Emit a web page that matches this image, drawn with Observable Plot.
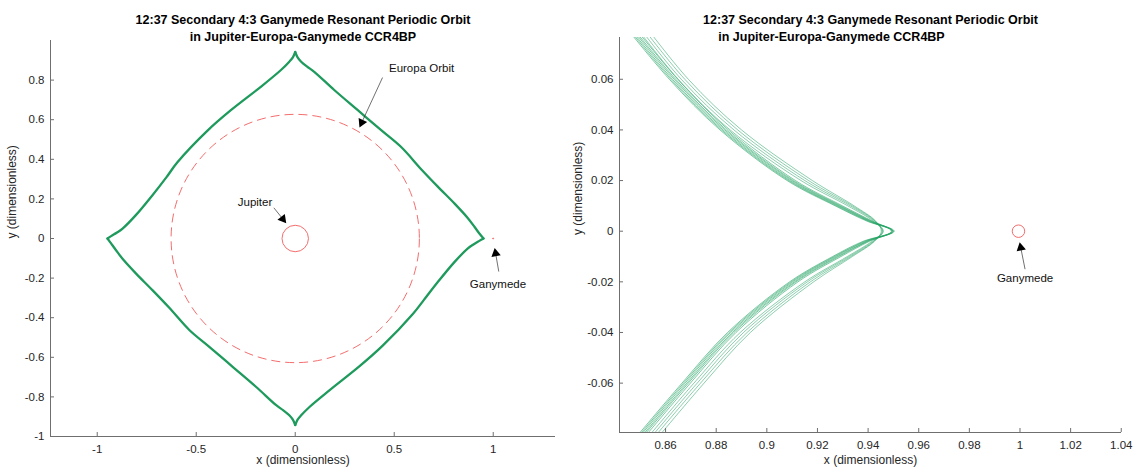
<!DOCTYPE html>
<html><head><meta charset="utf-8">
<script src="https://cdn.jsdelivr.net/npm/d3@7"></script>
<script src="https://cdn.jsdelivr.net/npm/@observablehq/plot@0.6"></script>
<style>
body{margin:0;background:#fff;}
#wrap{position:relative;width:1135px;height:473px;overflow:hidden;}
#left,#right{position:absolute;top:0;}
#left{left:0;} #right{left:560px;}
</style></head><body><div id="wrap"><div id="left"></div><div id="right"></div></div>
<script>
// ---------- texts ----------
const titleLine1 = "12:37 Secondary 4:3 Ganymede Resonant Periodic Orbit";
const titleLine2 = "in Jupiter-Europa-Ganymede CCR4BP";
const xLabel = "x (dimensionless)";
const yLabel = "y (dimensionless)";

// ---------- ticks ----------
const xTicksLeft = [-1, -0.5, 0, 0.5, 1];
const yTicksLeft = [-1, -0.8, -0.6, -0.4, -0.2, 0, 0.2, 0.4, 0.6, 0.8];
const xTicksRight = [0.86, 0.88, 0.9, 0.92, 0.94, 0.96, 0.98, 1, 1.02, 1.04];
const yTicksRight = [-0.06, -0.04, -0.02, 0, 0.02, 0.04, 0.06];

// ---------- bodies (x, y, radius) ----------
const jupiter = [{x: 0, y: 0, r: 0.0668}];
const europaOrbit = [{x: 0, y: 0, r: 0.627}];
const ganymede = [{x: 0.9994, y: 0, r: 0.00246}];

// ---------- orbit (full view), four arms between cusps ----------
const armTopRight = [[0,0.942],[0.012,0.915],[0.03,0.893],[0.06,0.868],[0.096,0.842],[0.197,0.75],[0.316,0.648],[0.434,0.547],[0.535,0.462],[0.636,0.35],[0.72,0.262],[0.805,0.176],[0.87,0.105],[0.906,0.058],[0.93,0.025],[0.951,0]];
const armRightBottom = [[0.951,0],[0.93,-0.012],[0.9,-0.03],[0.872,-0.05],[0.805,-0.118],[0.72,-0.22],[0.65,-0.31],[0.595,-0.38],[0.443,-0.54],[0.325,-0.645],[0.174,-0.766],[0.072,-0.851],[0.03,-0.893],[0.012,-0.915],[0,-0.942]];
const armBottomLeft = [[0,-0.942],[-0.012,-0.915],[-0.03,-0.893],[-0.06,-0.868],[-0.096,-0.842],[-0.197,-0.75],[-0.316,-0.648],[-0.434,-0.547],[-0.535,-0.462],[-0.636,-0.35],[-0.72,-0.262],[-0.805,-0.176],[-0.87,-0.105],[-0.906,-0.058],[-0.93,-0.025],[-0.948,0]];
const armLeftTop = [[-0.948,0],[-0.93,0.012],[-0.9,0.03],[-0.872,0.05],[-0.805,0.118],[-0.72,0.22],[-0.65,0.31],[-0.595,0.385],[-0.443,0.545],[-0.325,0.648],[-0.174,0.766],[-0.072,0.851],[-0.03,0.893],[-0.012,0.915],[0,0.942]];

// ---------- orbit (zoom near cusp): x of each revolution at these y levels ----------
const yLevels = [0.085, 0.06, 0.04, 0.02, 0.01, 0.004, 0, -0.004, -0.01, -0.02, -0.04, -0.06, -0.085];
const strandsInner = [
  [0.8408,0.8615,0.8815,0.9080,0.9270,0.9395,0.9500,0.9380,0.9260,0.9090,0.8845,0.8665,0.8453],
  [0.8414,0.8621,0.8821,0.9086,0.9276,0.9400,0.9497,0.9386,0.9266,0.9096,0.8851,0.8671,0.8459],
  [0.8420,0.8627,0.8827,0.9092,0.9281,0.9404,0.9503,0.9391,0.9272,0.9102,0.8857,0.8677,0.8465],
  [0.8427,0.8634,0.8834,0.9099,0.9287,0.9408,0.9492,0.9396,0.9279,0.9109,0.8864,0.8684,0.8472],
  [0.8433,0.8640,0.8840,0.9105,0.9292,0.9412,0.9498,0.9400,0.9285,0.9115,0.8870,0.8690,0.8478],
  [0.8441,0.8648,0.8848,0.9113,0.9299,0.9416,0.9494,0.9405,0.9293,0.9123,0.8878,0.8698,0.8486]
];
const strandsOuter = [
  [0.8450,0.8650,0.8855,0.9135,0.9320,0.9420,0.9458,0.9415,0.9318,0.9150,0.8895,0.8712,0.8500],
  [0.8462,0.8662,0.8870,0.9150,0.9330,0.9425,0.9460,0.9420,0.9325,0.9160,0.8908,0.8725,0.8512],
  [0.8475,0.8676,0.8885,0.9165,0.9338,0.9428,0.9455,0.9423,0.9332,0.9172,0.8922,0.8738,0.8525],
  [0.8490,0.8690,0.8900,0.9180,0.9345,0.9430,0.9452,0.9425,0.9338,0.9185,0.8935,0.8752,0.8540]
];

// ---------- annotations: label position, arrow tail, arrow head ----------
const notesLeft = [
  {label: "Europa Orbit", lx: 0.638, ly: 0.859, tx: 0.441, ty: 0.813, hx: 0.336, hy: 0.586},
  {label: "Jupiter", lx: -0.203, ly: 0.183, tx: -0.108, ty: 0.155, hx: -0.0626, hy: 0.0985},
  {label: "Ganymede", lx: 1.024, ly: -0.229, tx: 1.028, ty: -0.167, hx: 1.0121, hy: -0.0752}
];
const notesRight = [
  {label: "Ganymede", lx: 1.0020, ly: -0.0187, tx: 1.0020, ty: -0.0150, hx: 1.0003, hy: -0.0065}
];

// ---------- styles ----------
const FONT = 'Helvetica, "Liberation Sans", Arial, sans-serif';
const axisColor = "#6f6f6f";
const orbitColor = "#1e9a5c";
const strandColor = "#22a262";
const redColor = "#f25c5c";
const fmt = d => String(Math.round(d * 100) / 100);

function armRows(arms) {
  const rows = [];
  arms.forEach((arm, i) => arm.forEach(([x, y]) => rows.push({x, y, arm: i})));
  return rows;
}
function strandRows(strands, offset) {
  const rows = [];
  strands.forEach((xs, i) => xs.forEach((x, j) => rows.push({x, y: yLevels[j], s: i + offset})));
  return rows;
}
function noteMarks(notes) {
  return [
    Plot.link(notes, {x1: "tx", y1: "ty", x2: "hx", y2: "hy", stroke: "#333", strokeWidth: 0.7}),
    Plot.dot(notes, {x: "hx", y: "hy", symbol: "triangle2", r: 4.5, fill: "#000",
      rotate: d => Math.atan2(d.hx - d.tx, d.hy - d.ty) * 180 / Math.PI}),
    Plot.text(notes, {x: "lx", y: "ly", text: "label", fontSize: 11.5, fill: "#111"})
  ];
}

function panel(cfg) {
  const plotW = cfg.width - cfg.mL - cfg.mR;
  const plotH = cfg.height - cfg.mT - cfg.mB;
  const k = plotW / (cfg.xDom[1] - cfg.xDom[0]);
  return Plot.plot({
    width: cfg.width, height: cfg.height,
    marginLeft: cfg.mL, marginRight: cfg.mR, marginTop: cfg.mT, marginBottom: cfg.mB,
    style: {fontFamily: FONT, fontSize: "11.5px", color: "#262626", background: "transparent", overflow: "visible"},
    x: {domain: cfg.xDom, ticks: cfg.xTicks, tickSize: 0, tickPadding: 8, tickFormat: fmt, label: null},
    y: {domain: cfg.yDom, ticks: cfg.yTicks, tickSize: 0, tickPadding: 6, tickFormat: fmt, label: null},
    r: {type: "linear", domain: [0, 1], range: [0, k]},
    marks: [
      ...cfg.marks,
      Plot.ruleY([cfg.yDom[0]], {stroke: axisColor}),
      Plot.ruleX([cfg.xDom[0]], {stroke: axisColor}),
      Plot.tickX(cfg.xTicks, {x: d => d, insetTop: plotH - 4, stroke: axisColor}),
      Plot.tickY(cfg.yTicks, {y: d => d, insetRight: plotW - 4, stroke: axisColor}),
      Plot.text([titleLine1], {text: d => d, frameAnchor: "top", dy: 15 - cfg.mT, fontWeight: "bold", fontSize: 12.5, fill: "#000"}),
      Plot.text([titleLine2], {text: d => d, frameAnchor: "top", dy: 32 - cfg.mT, dx: cfg.title2dx, fontWeight: "bold", fontSize: 12.5, fill: "#000"}),
      Plot.text([xLabel], {text: d => d, frameAnchor: "bottom", dy: 463 - (cfg.height - cfg.mB), fontSize: 12, fill: "#262626"}),
      Plot.text([yLabel], {text: d => d, frameAnchor: "left", dx: cfg.yLabelX - cfg.mL, rotate: -90, fontSize: 12, fill: "#262626"})
    ]
  });
}

const leftPlot = panel({
  width: 560, height: 473, mL: 50, mR: 5, mT: 40, mB: 37,
  xDom: [-1.236, 1.3145], yDom: [-1, 1],
  xTicks: xTicksLeft, yTicks: yTicksLeft, title2dx: 0, yLabelX: 12,
  marks: [
    Plot.dot(europaOrbit, {x: "x", y: "y", r: "r", fill: "none", stroke: redColor, strokeWidth: 0.9, strokeDasharray: "9,5"}),
    Plot.dot(jupiter, {x: "x", y: "y", r: "r", fill: "none", stroke: redColor, strokeWidth: 0.9}),
    Plot.dot(ganymede, {x: "x", y: "y", r: "r", fill: "none", stroke: redColor, strokeWidth: 1}),
    Plot.line(armRows([armTopRight, armRightBottom, armBottomLeft, armLeftTop]),
      {x: "x", y: "y", z: "arm", curve: "catmull-rom", stroke: orbitColor, strokeWidth: 2.3}),
    ...noteMarks(notesLeft)
  ]
});

const rightPlot = panel({
  width: 575, height: 473, mL: 59, mR: 14, mT: 37, mB: 41,
  xDom: [0.8418, 1.0401], yDom: [-0.0795, 0.0765],
  xTicks: xTicksRight, yTicks: yTicksRight, title2dx: -39, yLabelX: 18,
  marks: [
    Plot.line(strandRows(strandsOuter, 100), {x: "x", y: "y", z: "s", curve: "catmull-rom", stroke: strandColor, strokeWidth: 0.7, strokeOpacity: 0.75, clip: true}),
    Plot.line(strandRows(strandsInner, 0), {x: "x", y: "y", z: "s", curve: "catmull-rom", stroke: strandColor, strokeWidth: 0.7, strokeOpacity: 0.85, clip: true}),
    Plot.dot(ganymede, {x: "x", y: "y", r: "r", fill: "none", stroke: redColor, strokeWidth: 0.9}),
    ...noteMarks(notesRight)
  ]
});

document.getElementById("left").appendChild(leftPlot);
document.getElementById("right").appendChild(rightPlot);
</script></body></html>
